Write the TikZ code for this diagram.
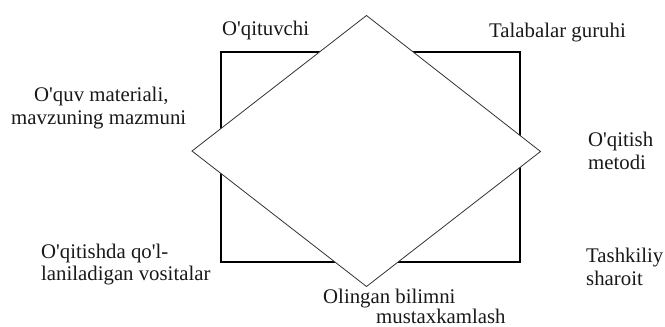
\documentclass[tikz,border=0pt]{standalone}
\usepackage{fontspec}
\setmainfont{Liberation Serif}[Ligatures=TeXOff]
\begin{document}
\begin{tikzpicture}[x=1pt,y=-1pt,
  lbl/.style={inner sep=0pt,anchor=base west,font=\fontsize{20.8}{23}\selectfont,text=black!90},
  frame/.style={draw=black,line width=1.1pt},
  rhomb/.style={draw=black!80,line width=0.8pt,fill=white}]
\useasboundingbox[fill=white] (0,0) rectangle (665,327);
% rectangle
\coordinate (r1) at (221,52);
\coordinate (r2) at (520,262);
\draw[frame] (r1) rectangle (r2);
% diamond
\coordinate (dt) at (366.5,15.5);
\coordinate (dr) at (540.5,151.5);
\coordinate (db) at (366.5,286.5);
\coordinate (dl) at (192,151);
\draw[rhomb] (dt) -- (dr) -- (db) -- (dl) -- cycle;
% labels
\node[lbl] (t1) at (222,35) {O'qituvchi};
\node[lbl] (t2) at (489,37) {Talabalar guruhi};
\node[lbl] (t3a) at (34,101.5) {O'quv materiali,};
\node[lbl] (t3b) at (11,124) {mavzuning mazmuni};
\node[lbl] (t4a) at (588,146.5) {O'qitish};
\node[lbl] (t4b) at (588,169) {metodi};
\node[lbl] (t5a) at (41,258) {O'qitishda qo'l-};
\node[lbl] (t5b) at (41,280) {laniladigan vositalar};
\node[lbl] (t6a) at (586,262) {Tashkiliy};
\node[lbl] (t6b) at (586,285) {sharoit};
\node[lbl] (t7a) at (323,303) {Olingan bilimni};
\node[lbl] (t7b) at (376,323) {mustaxkamlash};
\end{tikzpicture}
\end{document}
